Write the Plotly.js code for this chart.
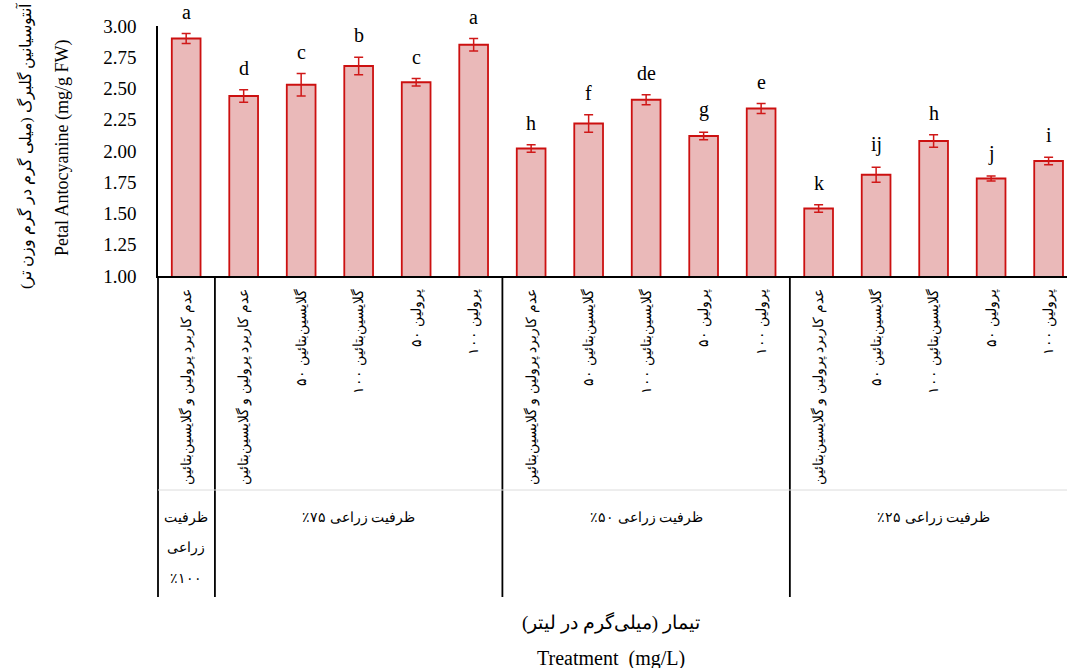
<!DOCTYPE html>
<html>
<head>
<meta charset="utf-8">
<script src="https://cdn.plot.ly/plotly-3.0.1.min.js"></script>
<style>
  html, body { margin: 0; padding: 0; background: #fff; }
  #chart { width: 1067px; height: 668px; }
</style>
</head>
<body>
<div id="chart"></div>
<script>
// Treatment labels (one per bar, left to right)
const treatments = [
  'عدم کاربرد پرولین و گلایسین‌بتائین',
  'عدم کاربرد پرولین و گلایسین‌بتائین',
  'گلایسین‌بتائین ۵۰',
  'گلایسین‌بتائین ۱۰۰',
  'پرولین ۵۰',
  'پرولین ۱۰۰',
  'عدم کاربرد پرولین و گلایسین‌بتائین',
  'گلایسین‌بتائین ۵۰',
  'گلایسین‌بتائین ۱۰۰',
  'پرولین ۵۰',
  'پرولین ۱۰۰',
  'عدم کاربرد پرولین و گلایسین‌بتائین',
  'گلایسین‌بتائین ۵۰',
  'گلایسین‌بتائین ۱۰۰',
  'پرولین ۵۰',
  'پرولین ۱۰۰'
];

// Petal anthocyanin (mg/g FW), standard errors and mean-comparison letters
const anthocyanin = [2.90, 2.44, 2.53, 2.68, 2.55, 2.85, 2.02, 2.22, 2.41, 2.12, 2.34, 1.54, 1.81, 2.08, 1.78, 1.92];
const stdErr      = [0.04, 0.05, 0.09, 0.07, 0.03, 0.05, 0.03, 0.07, 0.04, 0.03, 0.04, 0.03, 0.06, 0.05, 0.02, 0.03];
const letters     = ['a', 'd', 'c', 'b', 'c', 'a', 'h', 'f', 'de', 'g', 'e', 'k', 'ij', 'h', 'j', 'i'];

// Field-capacity groups: label lines and number of treatments in each
const groupLabels = [
  ['ظرفیت', 'زراعی', '٪۱۰۰'],
  ['ظرفیت زراعی ۷۵٪'],
  ['ظرفیت زراعی ۵۰٪'],
  ['ظرفیت زراعی ۲۵٪']
];
const groupSizes = [1, 5, 5, 5];

const yTickVals = [1.00, 1.25, 1.50, 1.75, 2.00, 2.25, 2.50, 2.75, 3.00];

const serif = 'Liberation Serif, Times New Roman, serif';
// right-to-left embedding for Persian runs that mix in numbers and brackets
const RLE = '\u202B', PDF = '\u202C';
const rtl = s => RLE + s + PDF;

const xIdx = treatments.map((_, i) => i);

const bars = {
  type: 'bar',
  x: xIdx,
  y: anthocyanin,
  width: 0.5,
  marker: {
    color: '#eab9b9',
    line: { color: '#cc1010', width: 1.8 }
  },
  error_y: {
    type: 'data',
    array: stdErr,
    visible: true,
    color: '#d01818',
    thickness: 1.5,
    width: 4.5
  },
  hoverinfo: 'skip'
};

const annotations = [];

// significance letters above each error bar
anthocyanin.forEach((v, i) => {
  annotations.push({
    x: i, y: v + stdErr[i], xref: 'x', yref: 'y',
    text: letters[i], showarrow: false,
    xanchor: 'center', yanchor: 'bottom', yshift: 9,
    font: { family: serif, size: 20, color: '#000' }
  });
});

// group labels and separators under the axis
const shapes = [];
const lineBottom = -1.284;
let start = -0.5;
groupSizes.forEach((n, g) => {
  const end = start + n;
  const centre = (start + end) / 2;
  groupLabels[g].forEach((line, k) => {
    annotations.push({
      x: centre, y: -0.968, xref: 'x', yref: 'paper',
      text: groupLabels[g].length > 1 ? line : rtl(line), showarrow: false,
      xanchor: 'center', yanchor: 'middle', yshift: -k * 30,
      font: { family: serif, size: 14, color: '#000' }
    });
  });
  if (g < groupSizes.length - 1) {
    shapes.push({
      type: 'line', xref: 'x', yref: 'paper',
      x0: end, x1: end, y0: 0, y1: lineBottom,
      line: { color: '#000', width: 1.8 }
    });
  }
  start = end;
});

// left border of the table continues the y axis
shapes.push({
  type: 'line', xref: 'paper', yref: 'paper',
  x0: 0, x1: 0, y0: 0, y1: lineBottom,
  line: { color: '#000', width: 1.8 }
});
// faint row divider between treatment names and capacity groups
shapes.push({
  type: 'line', xref: 'paper', yref: 'paper',
  x0: 0, x1: 1, y0: -0.856, y1: -0.856,
  line: { color: '#dcdcdc', width: 1 }
});

// axis titles (Persian and English lines)
annotations.push({
  xref: 'paper', yref: 'paper', x: -0.1463, y: 0.52,
  text: rtl('آنتوسیانین گلبرگ (میلی گرم در گرم وزن تر)'),
  textangle: -90, showarrow: false, xanchor: 'center', yanchor: 'middle',
  font: { family: serif, size: 15.5, color: '#000' }
});
annotations.push({
  xref: 'paper', yref: 'paper', x: -0.1056, y: 0.512,
  text: 'Petal Antocyanine (mg/g FW)',
  textangle: -90, showarrow: false, xanchor: 'center', yanchor: 'middle',
  font: { family: serif, size: 18, color: '#000' }
});
annotations.push({
  xref: 'paper', yref: 'paper', x: 0.4983, y: -1.384,
  text: rtl('تیمار (میلی‌گرم در لیتر)'),
  showarrow: false, xanchor: 'center', yanchor: 'middle',
  font: { family: serif, size: 19, color: '#000' }
});
annotations.push({
  xref: 'paper', yref: 'paper', x: 0.4983, y: -1.528,
  text: 'Treatment  (mg/L)',
  showarrow: false, xanchor: 'center', yanchor: 'middle',
  font: { family: serif, size: 20, color: '#000' }
});

const layout = {
  width: 1067,
  height: 668,
  margin: { l: 158, r: 0, t: 26, b: 392 },
  paper_bgcolor: '#fff',
  plot_bgcolor: '#fff',
  showlegend: false,
  bargap: 0.5,
  xaxis: {
    range: [-0.49, 15.32],
    tickmode: 'array',
    tickvals: xIdx,
    ticktext: treatments,
    tickangle: -90,
    ticks: '',
    ticklabelstandoff: 6,
    showline: true,
    linecolor: '#000',
    linewidth: 1.8,
    showgrid: false,
    zeroline: false,
    fixedrange: true,
    tickfont: { family: serif, size: 14, color: '#000' }
  },
  yaxis: {
    range: [1, 3],
    tickmode: 'array',
    tickvals: yTickVals,
    tickformat: '.2f',
    ticks: '',
    ticklabelstandoff: 16,
    showline: true,
    linecolor: '#000',
    linewidth: 1.8,
    showgrid: false,
    zeroline: false,
    fixedrange: true,
    tickfont: { family: serif, size: 19, color: '#000' }
  },
  annotations: annotations,
  shapes: shapes
};

Plotly.newPlot('chart', [bars], layout, { displayModeBar: false, staticPlot: true });
</script>
</body>
</html>
